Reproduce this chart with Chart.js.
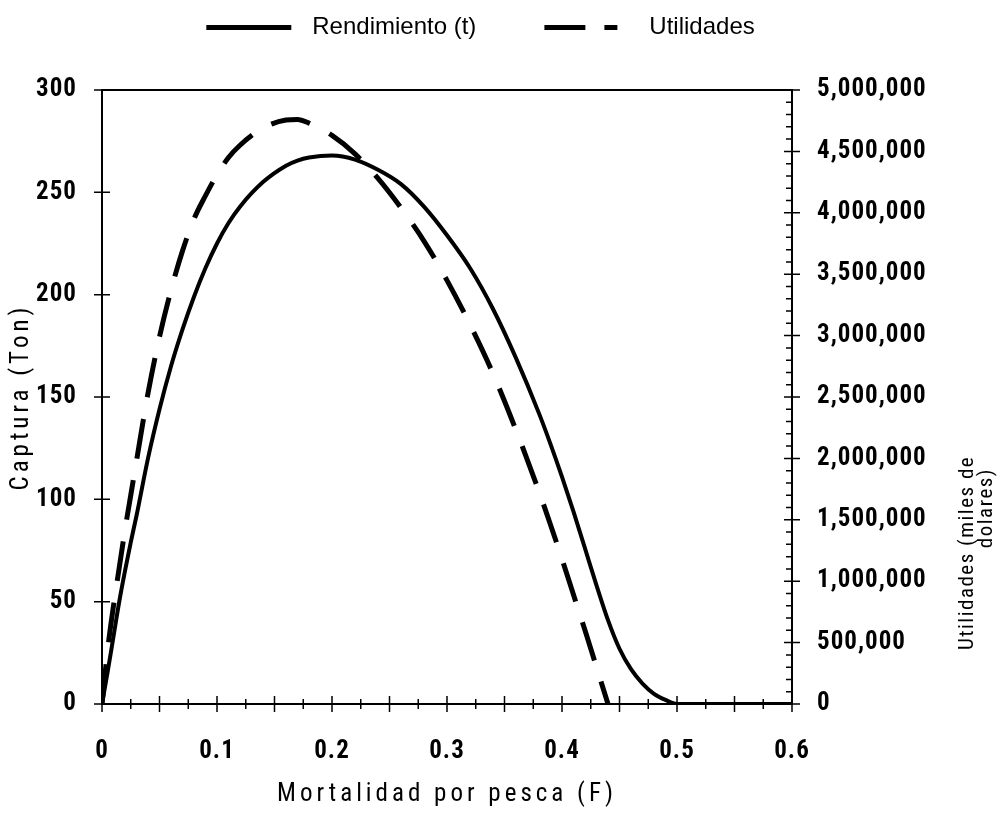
<!DOCTYPE html>
<html>
<head>
  <title>Rendimiento y Utilidades</title>
  <script src="https://cdn.jsdelivr.net/npm/chart.js"></script>
  <style>
    body { margin: 0; background: #fff; }
    #wrap { width: 1003px; height: 824px; }
  </style>
</head>
<body>
<div id="wrap"><canvas id="chart"></canvas></div>

<script>
  // Mortalidad por pesca (F)
  const mortalidad = [0, 0.005, 0.01, 0.015, 0.02, 0.025, 0.03, 0.04, 0.05, 0.06, 0.07, 0.08, 0.09, 0.10,
    0.11, 0.12, 0.14, 0.16, 0.17, 0.18, 0.20, 0.22, 0.24, 0.26, 0.28, 0.30, 0.32, 0.34, 0.36, 0.38,
    0.39, 0.40, 0.41, 0.42, 0.43, 0.44, 0.45, 0.46, 0.47, 0.48, 0.49, 0.50, 0.55, 0.60];

  // Rendimiento (t)
  const rendimiento = [0, 16, 33, 50, 65, 79, 92, 120, 144, 165, 183, 199, 213, 225,
    235, 243, 255, 263, 265.5, 267, 268, 266, 261, 254, 243, 229, 213, 193, 169, 142,
    127, 111, 94, 76, 58, 41, 27, 17, 10, 5, 2, 0, 0, 0];

  // Utilidades (miles de dolares)
  const utilidades = [0, 450000, 800000, 1110000, 1420000, 1700000, 1980000, 2530000, 2990000, 3370000, 3690000, 3950000, 4140000, 4310000,
    4450000, 4550000, 4690000, 4755000, 4760000, 4730000, 4630000, 4480000, 4280000, 4040000, 3770000, 3450000, 3090000, 2690000, 2230000, 1730000,
    1460000, 1180000, 890000, 600000, 300000, 0, null, null, null, null, null, null, null, null];

  const xLabels = [0, 0.1, 0.2, 0.3, 0.4, 0.5, 0.6];
  const utilLabels = [0, 500000, 1000000, 1500000, 2000000, 2500000, 3000000, 3500000, 4000000, 4500000, 5000000];

  const NARROW = "'Liberation Sans Narrow', 'Roboto Condensed', 'DejaVu Sans Condensed', Roboto, sans-serif";
  const tickFont = { family: NARROW, size: 25, weight: 'bold condensed' };
  const titleFont = { family: NARROW, size: 25, weight: 'condensed' };

  // legend keys: solid line and dash sample
  function legendKey(parts) {
    const c = document.createElement('canvas');
    c.width = 161; c.height = 10;
    const g = c.getContext('2d');
    g.fillStyle = '#000';
    parts.forEach(p => g.fillRect(p[0], 3, p[1] - p[0], 5));
    return c;
  }
  const keys = [legendKey([[67, 152]]), legendKey([[68, 109], [128, 141]])];

  // letter spacing for axis texts
  const spacing = {
    id: 'spacing',
    beforeDraw(chart) {
      Object.values(chart.scales).forEach(s => {
        if (s._spaced) return;
        const dt = s.drawTitle, dl = s.drawLabels;
        s.drawTitle = function () { chart.ctx.letterSpacing = '4px'; dt.apply(this, arguments); chart.ctx.letterSpacing = '0px'; };
        s.drawLabels = function () { chart.ctx.letterSpacing = '1px'; dl.apply(this, arguments); chart.ctx.letterSpacing = '0px'; };
        s._spaced = true;
      });
    }
  };

  // frame, crossing tick marks and the right-hand title
  const axisMarks = {
    id: 'axisMarks',
    afterDraw(chart) {
      const { ctx, chartArea: a, scales } = chart;
      ctx.save();
      ctx.strokeStyle = '#000';
      ctx.lineWidth = 2;
      ctx.strokeRect(a.left, a.top, a.right - a.left, a.bottom - a.top);

      ctx.lineWidth = 1.5;
      ctx.beginPath();
      scales.x.ticks.forEach(t => {
        const px = scales.x.getPixelForValue(t.value);
        const len = Math.round(t.value * 1000) % 50 === 0 ? 8 : 5;
        ctx.moveTo(px, a.bottom - len);
        ctx.lineTo(px, a.bottom + len);
      });
      scales.y.ticks.forEach(t => {
        const py = scales.y.getPixelForValue(t.value);
        ctx.moveTo(a.left - 8, py);
        ctx.lineTo(a.left + 8, py);
      });
      scales.y1.ticks.forEach(t => {
        const py = scales.y1.getPixelForValue(t.value);
        if (t.value % 500000 === 0) {
          ctx.moveTo(a.right - 8, py);
          ctx.lineTo(a.right + 8, py);
        } else {
          ctx.moveTo(a.right - 6, py);
          ctx.lineTo(a.right, py);
        }
      });
      ctx.stroke();

      ctx.fillStyle = '#000';
      ctx.font = "condensed 21px " + NARROW;
      ctx.letterSpacing = '1.5px';
      ctx.textBaseline = 'middle';
      ctx.translate(968, 650);
      ctx.rotate(-Math.PI / 2);
      ctx.textAlign = 'left';
      ctx.fillText('Utilidades (miles de', 0, 0);
      ctx.textAlign = 'right';
      ctx.fillText('dolares)', 182, 19);
      ctx.restore();
    }
  };

  new Chart(document.getElementById('chart'), {
    type: 'line',
    data: {
      datasets: [{
        label: 'Rendimiento (t)',
        data: mortalidad.map((f, i) => ({ x: f, y: rendimiento[i] })),
        yAxisID: 'y',
        borderColor: '#000',
        backgroundColor: '#000',
        borderWidth: 4,
        pointRadius: 0,
        cubicInterpolationMode: 'monotone'
      }, {
        label: 'Utilidades',
        data: mortalidad.map((f, i) => ({ x: f, y: utilidades[i] })),
        yAxisID: 'y1',
        borderColor: '#000',
        backgroundColor: '#000',
        borderWidth: 5,
        borderDash: [40, 22],
        pointRadius: 0,
        cubicInterpolationMode: 'monotone'
      }]
    },
    options: {
      responsive: true,
      maintainAspectRatio: false,
      animation: false,
      layout: { padding: { top: 15, left: 0, right: 0, bottom: 0 } },
      plugins: {
        tooltip: { enabled: false },
        legend: {
          position: 'top',
          fullSize: false,
          labels: {
            color: '#000',
            font: { family: "'Liberation Sans', Arial, sans-serif", size: 24 },
            usePointStyle: true,
            pointStyleWidth: 161,
            padding: 0,
            generateLabels(chart) {
              const items = Chart.defaults.plugins.legend.labels.generateLabels(chart);
              items.forEach((it, i) => { it.pointStyle = keys[i]; });
              return items;
            }
          }
        }
      },
      scales: {
        x: {
          type: 'linear',
          min: 0,
          max: 0.6,
          grid: { display: false, drawTicks: false },
          border: { display: false },
          ticks: {
            stepSize: 0.025,
            autoSkip: false,
            maxRotation: 0,
            padding: 33,
            color: '#000',
            font: tickFont,
            callback: v => {
              const hit = xLabels.find(l => Math.abs(l - v) < 1e-9);
              return hit === undefined ? '' : String(hit);
            }
          },
          title: { display: true, text: 'Mortalidad por pesca (F)', color: '#000', font: titleFont, padding: { top: 0, bottom: 14 } },
          afterFit: s => { s.height = 120; }
        },
        xTop: {
          type: 'linear',
          position: 'top',
          min: 0,
          max: 0.6,
          grid: { display: false, drawTicks: false },
          border: { display: false },
          ticks: { display: false },
          afterFit: s => { s.height = 41; }
        },
        y: {
          position: 'left',
          min: 0,
          max: 300,
          grid: { display: false, drawTicks: false },
          border: { display: false },
          ticks: { stepSize: 50, padding: 25, color: '#000', font: tickFont },
          title: { display: true, text: 'Captura (Ton)', color: '#000', font: titleFont, padding: { top: 7, bottom: 0 } },
          afterFit: s => { s.width = 102; }
        },
        y1: {
          position: 'right',
          min: 0,
          max: 5000000,
          grid: { display: false, drawTicks: false },
          border: { display: false },
          ticks: {
            stepSize: 100000,
            autoSkip: false,
            padding: 25,
            color: '#000',
            font: tickFont,
            callback: v => utilLabels.includes(v) ? v.toLocaleString('en-US') : ''
          },
          afterFit: s => { s.width = 211; }
        }
      }
    },
    plugins: [spacing, axisMarks]
  });
</script>
</body>
</html>
